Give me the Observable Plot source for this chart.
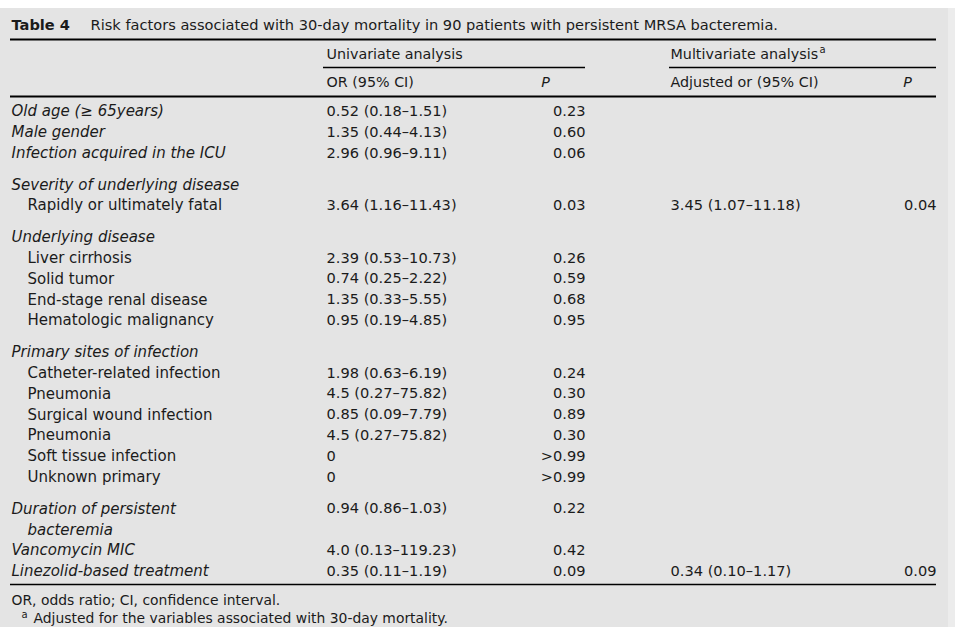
<!DOCTYPE html>
<html>
<head>
<meta charset="utf-8">
<script src="https://cdn.jsdelivr.net/npm/d3@7"></script>
<script src="https://cdn.jsdelivr.net/npm/@observablehq/plot@0.6"></script>
<style>
  html, body { margin: 0; padding: 0; background: #ffffff; }
</style>
</head>
<body>
<div id="chart"></div>
<script>
// ---- Table content ----
const titleLabel = "Table 4";
const titleText = "Risk factors associated with 30-day mortality in 90 patients with persistent MRSA bacteremia.";
const groupHeaders = ["Univariate analysis", "Multivariate analysis"];
const footnoteMark = "a";
const colHeaders = ["OR (95% CI)", "P", "Adjusted or (95% CI)", "P"];

const rowLabels = [
  "Old age (≥ 65years)", "Male gender", "Infection acquired in the ICU",
  "Severity of underlying disease", "Rapidly or ultimately fatal",
  "Underlying disease", "Liver cirrhosis", "Solid tumor", "End-stage renal disease", "Hematologic malignancy",
  "Primary sites of infection", "Catheter-related infection", "Pneumonia", "Surgical wound infection", "Pneumonia", "Soft tissue infection", "Unknown primary",
  "Duration of persistent", "bacteremia", "Vancomycin MIC", "Linezolid-based treatment"
];
const rowKind = [
  "main", "main", "main",
  "main", "sub",
  "main", "sub", "sub", "sub", "sub",
  "main", "sub", "sub", "sub", "sub", "sub", "sub",
  "main", "cont", "main", "main"
];
const rowGroup = [0,0,0, 1,1, 2,2,2,2,2, 3,3,3,3,3,3,3, 4,4,4,4];

const orCI = [
  "0.52 (0.18–1.51)", "1.35 (0.44–4.13)", "2.96 (0.96–9.11)",
  "", "3.64 (1.16–11.43)",
  "", "2.39 (0.53–10.73)", "0.74 (0.25–2.22)", "1.35 (0.33–5.55)", "0.95 (0.19–4.85)",
  "", "1.98 (0.63–6.19)", "4.5 (0.27–75.82)", "0.85 (0.09–7.79)", "4.5 (0.27–75.82)", "0", "0",
  "0.94 (0.86–1.03)", "", "4.0 (0.13–119.23)", "0.35 (0.11–1.19)"
];
const pUni = [
  "0.23", "0.60", "0.06",
  "", "0.03",
  "", "0.26", "0.59", "0.68", "0.95",
  "", "0.24", "0.30", "0.89", "0.30", ">0.99", ">0.99",
  "0.22", "", "0.42", "0.09"
];
const adjOR = [
  "", "", "",
  "", "3.45 (1.07–11.18)",
  "", "", "", "", "",
  "", "", "", "", "", "", "",
  "", "", "", "0.34 (0.10–1.17)"
];
const pMulti = [
  "", "", "",
  "", "0.04",
  "", "", "", "", "",
  "", "", "", "", "", "", "",
  "", "", "", "0.09"
];
const footnotes = ["OR, odds ratio; CI, confidence interval.", "Adjusted for the variables associated with 30-day mortality."];

// ---- Layout ----
const W = 955, H = 627;
const FONT = "DejaVu Sans";
const FS_HEAD = 14.3, FS_TITLE = 14.6, FS_LABEL = 15, FS_VAL = 14.6, FS_FOOT = 13.9, FS_SUP = 10;
const INK = "#1b1b1b";
const firstRowY = 111, rowStep = 20.9, groupGap = 10.5;
const xLabel = 11, xIndent = 27, xOR = 326, xPUni = 585, xAdj = 670, xPMulti = 936;
const ruleL = 10, ruleR = 936;

// measure header width to place the superscript mark right after it
const ctx = document.createElement("canvas").getContext("2d");
ctx.font = `${FS_HEAD}px "${FONT}"`;
const multiW = ctx.measureText(groupHeaders[1]).width;

const rows = rowLabels.map((label, i) => ({
  label, kind: rowKind[i],
  y: firstRowY + i * rowStep + rowGroup[i] * groupGap,
  or: orCI[i], p: pUni[i], adj: adjOR[i], pm: pMulti[i]
}));

const txt = (data, opts) => Plot.text(data, {fontFamily: FONT, fontSize: FS_VAL, fill: INK, ...opts});
const one = (s, x, y, opts = {}) => txt([s], {x: () => x, y: () => y, text: d => d, textAnchor: "start", ...opts});

const chart = Plot.plot({
  width: W, height: H,
  margin: 0,
  x: {domain: [0, W], range: [0, W], axis: null},
  y: {domain: [0, H], range: [0, H], axis: null},
  style: {background: "#ffffff"},
  marks: [
    // backgrounds
    Plot.rect([{x1: 0, x2: 948, y1: 8, y2: H}], {x1: "x1", x2: "x2", y1: "y1", y2: "y2", fill: "#e4e4e4"}),
    Plot.rect([{x1: 948, x2: W, y1: 8, y2: H}], {x1: "x1", x2: "x2", y1: "y1", y2: "y2", fill: "#ececec"}),
    // rules
    Plot.ruleY([39], {x1: ruleL, x2: ruleR, stroke: "#000", strokeWidth: 2.2}),
    Plot.ruleY([67], {x1: 323, x2: xPUni, stroke: "#000", strokeWidth: 1.6}),
    Plot.ruleY([67], {x1: 669, x2: ruleR, stroke: "#000", strokeWidth: 1.6}),
    Plot.ruleY([96], {x1: ruleL, x2: ruleR, stroke: "#000", strokeWidth: 2.2}),
    Plot.ruleY([584], {x1: ruleL, x2: ruleR, stroke: "#000", strokeWidth: 1.3}),
    // title
    one(titleLabel, xLabel, 25, {fontWeight: "bold", fontSize: FS_TITLE}),
    one(titleText, 90, 25, {fontSize: FS_TITLE}),
    // group headers
    one(groupHeaders[0], xOR, 54, {fontSize: FS_HEAD}),
    one(groupHeaders[1], xAdj, 54, {fontSize: FS_HEAD}),
    one(footnoteMark, xAdj + multiW + 1.5, 49, {fontSize: FS_SUP}),
    // column headers
    one(colHeaders[0], xOR, 82, {fontSize: FS_HEAD}),
    one(colHeaders[1], 545, 82, {fontSize: FS_HEAD, textAnchor: "middle", fontStyle: "italic"}),
    one(colHeaders[2], xAdj, 82, {fontSize: FS_HEAD}),
    one(colHeaders[3], 907, 82, {fontSize: FS_HEAD, textAnchor: "middle", fontStyle: "italic"}),
    // row labels
    txt(rows.filter(r => r.kind === "main"), {x: () => xLabel, y: "y", text: "label", textAnchor: "start", fontStyle: "italic", fontSize: FS_LABEL}),
    txt(rows.filter(r => r.kind === "cont"), {x: () => xIndent, y: "y", text: "label", textAnchor: "start", fontStyle: "italic", fontSize: FS_LABEL}),
    txt(rows.filter(r => r.kind === "sub"), {x: () => xIndent, y: "y", text: "label", textAnchor: "start", fontSize: FS_LABEL}),
    // values
    txt(rows.filter(r => r.or), {x: () => xOR, y: "y", text: "or", textAnchor: "start"}),
    txt(rows.filter(r => r.p), {x: () => xPUni, y: "y", text: "p", textAnchor: "end"}),
    txt(rows.filter(r => r.adj), {x: () => xAdj, y: "y", text: "adj", textAnchor: "start"}),
    txt(rows.filter(r => r.pm), {x: () => xPMulti, y: "y", text: "pm", textAnchor: "end"}),
    // footnotes
    one(footnotes[0], xLabel, 600, {fontSize: FS_FOOT}),
    one(footnoteMark, 21, 614, {fontSize: FS_SUP}),
    one(footnotes[1], 33, 618, {fontSize: FS_FOOT})
  ]
});
document.getElementById("chart").appendChild(chart);
</script>
</body>
</html>
